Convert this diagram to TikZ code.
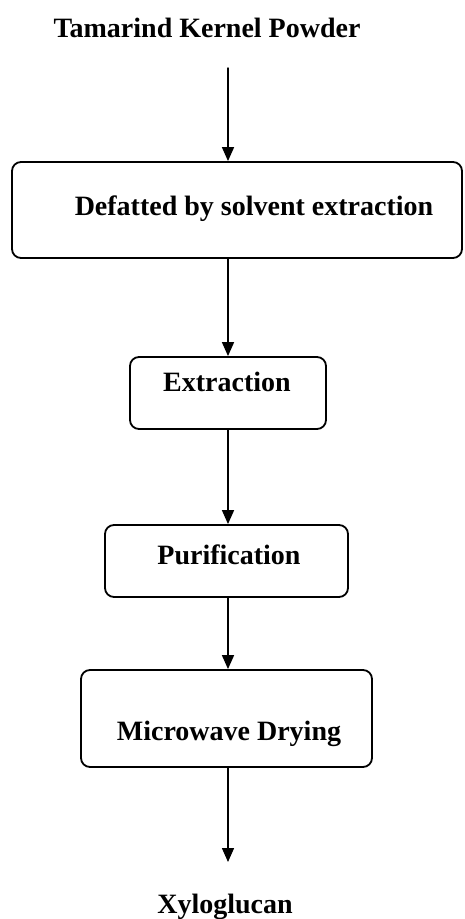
\documentclass[tikz,border=0pt]{standalone}
\usepackage{fontspec}
\setmainfont{Liberation Serif}
\usetikzlibrary{arrows.meta}

\begin{document}
\begin{tikzpicture}[x=1pt, y=-1pt, line join = round, line cap = round,
    stepbox/.style={draw, line width=1.8pt, rounded corners=9pt, inner sep=0pt},
    steptext/.style={anchor=base, font=\fontsize{28}{32}\selectfont\bfseries},
    flow/.style={line width=1.5pt, -{Triangle[length=14pt, width=12pt]}}]

                                \useasboundingbox (0,0) rectangle (464,919);

                                % boxes
                                \node [stepbox, minimum width=450pt, minimum height=96pt] (defat) at (237,210) {};
                                \node [stepbox, minimum width=196pt, minimum height=72pt] (extract) at (228,393) {};
                                \node [stepbox, minimum width=243pt, minimum height=72pt] (purify) at (226.5,561) {};
                                \node [stepbox, minimum width=291pt, minimum height=97pt] (dry) at (226.5,718.5) {};

                                % texts
                                \node [steptext] (powder) at (207,37) {Tamarind Kernel Powder};
                                \node [steptext] (defattxt) at (254,215) {Defatted by solvent extraction};
                                \node [steptext] (extracttxt) at (227,391) {Extraction};
                                \node [steptext] (purifytxt) at (229,564) {Purification};
                                \node [steptext] (drytxt) at (229,740) {Microwave Drying};
                                \node [steptext] (xylo) at (225,913) {Xyloglucan};

                                \coordinate (p0) at (228,68);
                                \coordinate (p1) at (228,862);

                                % arrows
                                \draw [flow] (p0) -- (p0 |- defat.north);
                                \draw [flow] (p0 |- defat.south) -- (extract.north);
                                \draw [flow] (extract.south) -- (p0 |- purify.north);
                                \draw [flow] (p0 |- purify.south) -- (p0 |- dry.north);
                                \draw [flow] (p0 |- dry.south) -- (p1);

\end{tikzpicture}
\end{document}
